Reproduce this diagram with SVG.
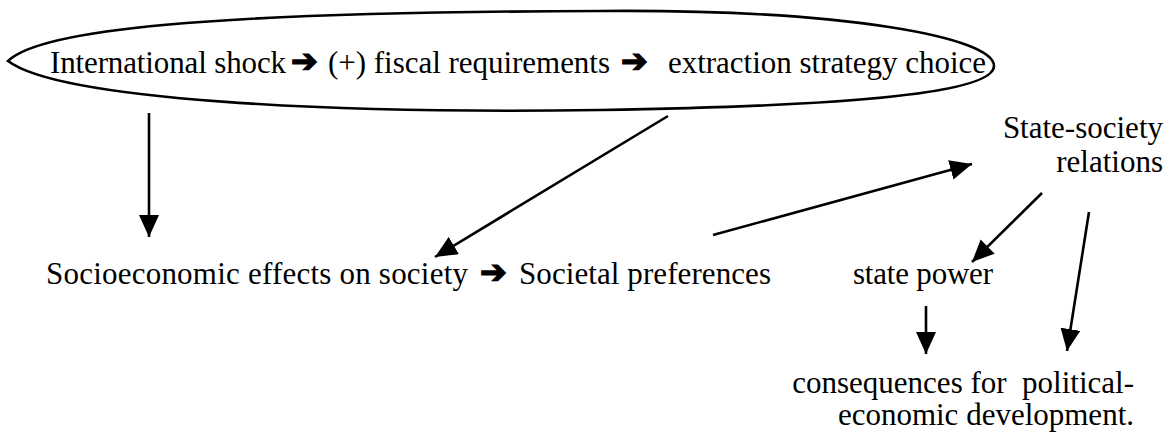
<svg xmlns="http://www.w3.org/2000/svg" width="1168" height="434" viewBox="0 0 1168 434">
<style>
  .t { font-family: "Liberation Serif", "Times New Roman", serif; font-size: 31px; fill: #000; white-space: pre; }
  .ar { font-family: "DejaVu Sans", sans-serif; font-size: 32px; fill: #000; stroke: #000; stroke-width: 1.4; }
  .edge { stroke: #000; stroke-width: 2.6; fill: none; marker-end: url(#head); }
  .oval { stroke: #000; stroke-width: 2.6; fill: none; }
</style>
<defs>
  <marker id="head" markerUnits="userSpaceOnUse" markerWidth="24" markerHeight="22" refX="22" refY="10" orient="auto" viewBox="0 0 24 22">
    <path d="M0,0 L22,10 L0,20 Z" fill="#000"/>
  </marker>
</defs>
<rect width="1168" height="434" fill="#fff"/>

<g id="node-shock-chain">
  <path class="oval" d="M 8 61 C 40 30, 200 12, 600 11 C 850 9, 994 38, 994 66 C 994 92, 860 106, 600 110 C 330 114, 60 100, 8 61 Z"/>
  <text class="t" x="50" y="73" textLength="236">International shock</text>
  <text class="ar" x="291" y="72">➔</text>
  <text class="t" x="328" y="73" textLength="282">(+) fiscal requirements</text>
  <text class="ar" x="621" y="72">➔</text>
  <text class="t" x="668" y="73" textLength="318">extraction strategy choice</text>
</g>

<g id="node-socioeconomic">
  <text class="t" x="46" y="284" textLength="422">Socioeconomic effects on society</text>
</g>
<g id="node-societal">
  <text class="t" x="519" y="284" textLength="252">Societal preferences</text>
</g>
<g id="node-state-society">
  <text class="t" x="1163" y="138" text-anchor="end">State-society</text>
  <text class="t" x="1163" y="172" text-anchor="end">relations</text>
</g>
<g id="node-state-power">
  <text class="t" x="853" y="284" textLength="140">state power</text>
</g>
<g id="node-consequences">
  <text class="t" x="1134" y="393" text-anchor="end">consequences for  political-</text>
  <text class="t" x="1134" y="425" text-anchor="end">economic development.</text>
</g>

<g id="connectors">
  <text class="ar" x="480" y="283">➔</text>
  <line class="edge" x1="149" y1="113" x2="149" y2="237"/>
  <line class="edge" x1="668" y1="116" x2="435" y2="257"/>
  <line class="edge" x1="713" y1="235" x2="972" y2="164"/>
  <line class="edge" x1="1042" y1="193" x2="972" y2="262"/>
  <line class="edge" x1="1089" y1="212" x2="1067" y2="351"/>
  <line class="edge" x1="926" y1="306" x2="926" y2="354"/>
</g>
</svg>
